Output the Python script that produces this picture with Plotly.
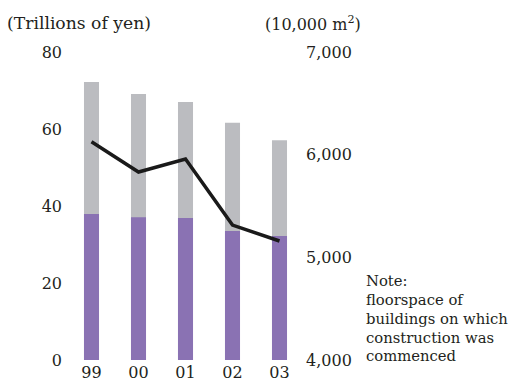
import plotly.graph_objects as go

# Fiscal years (two-digit)
years = ["99", "00", "01", "02", "03"]
# Construction investment, trillions of yen
total_investment = [72.2, 69.1, 67.0, 61.6, 57.1]
lower_segment = [37.9, 37.1, 36.9, 33.5, 32.2]
# Floorspace of buildings on which construction was commenced, 10,000 m2
floorspace = [6125, 5831, 5957, 5314, 5159]

left_ticks = [0, 20, 40, 60, 80]
right_ticks = [4000, 5000, 6000, 7000]
right_tick_text = ["4,000", "5,000", "6,000", "7,000"]
note_lines = ["Note:", "floorspace of", "buildings on which", "construction was", "commenced"]

FONT = "DejaVu Serif"
TXT = "#231f20"
PURPLE = "#8a72b3"
GRAY = "#bbbcc0"

# plot area in pixels: x 68..303, y 52..360
PX_L, PX_W, PX_B, PX_H = 68, 235, 360, 308


def px_x(x):
    return (x - PX_L) / PX_W


def px_y(y):
    return (PX_B - y) / PX_H


fig = go.Figure()
fig.add_trace(go.Bar(x=years, y=total_investment, marker_color=GRAY, width=0.32,
                     marker_line_width=0, yaxis="y"))
fig.add_trace(go.Bar(x=years, y=lower_segment, marker_color=PURPLE, width=0.32,
                     marker_line_width=0, yaxis="y"))
fig.add_trace(go.Scatter(x=years, y=floorspace, mode="lines", yaxis="y2",
                         line=dict(color="#1a1a1a", width=3.5)))

fig.update_layout(
    width=508, height=384,
    margin=dict(l=68, r=205, t=52, b=24),
    paper_bgcolor="white", plot_bgcolor="white",
    barmode="overlay", showlegend=False,
    font=dict(family=FONT, size=16, color=TXT),
    xaxis=dict(range=[-0.5, 4.5], showgrid=False, zeroline=False, showline=False,
               ticks="", ticklabelstandoff=1, automargin=False),
    yaxis=dict(range=[0, 80], tickvals=left_ticks, showgrid=False, zeroline=False,
               showline=False, ticks="", ticklabelstandoff=5, automargin=False),
    yaxis2=dict(range=[4000, 7000], tickvals=right_ticks, ticktext=right_tick_text,
                overlaying="y", side="right", showgrid=False, zeroline=False,
                showline=False, ticks="", ticklabelstandoff=2, automargin=False),
)

fig.add_annotation(text="(Trillions of yen)", xref="paper", yref="paper",
                   x=px_x(5), y=px_y(23), xanchor="left", yanchor="middle",
                   showarrow=False, font=dict(size=17.2))
fig.add_annotation(text="(10,000 m<sup>2</sup>)", xref="paper", yref="paper",
                   x=px_x(263), y=px_y(23), xanchor="left", yanchor="middle",
                   showarrow=False, font=dict(size=16))

note_y = [280, 299, 318, 337, 355]
for line, yy in zip(note_lines, note_y):
    fig.add_annotation(text=line, xref="paper", yref="paper",
                       x=px_x(364), y=px_y(yy),
                       xanchor="left", yanchor="middle", showarrow=False,
                       font=dict(size=14.8))

fig.write_html("out.html")
